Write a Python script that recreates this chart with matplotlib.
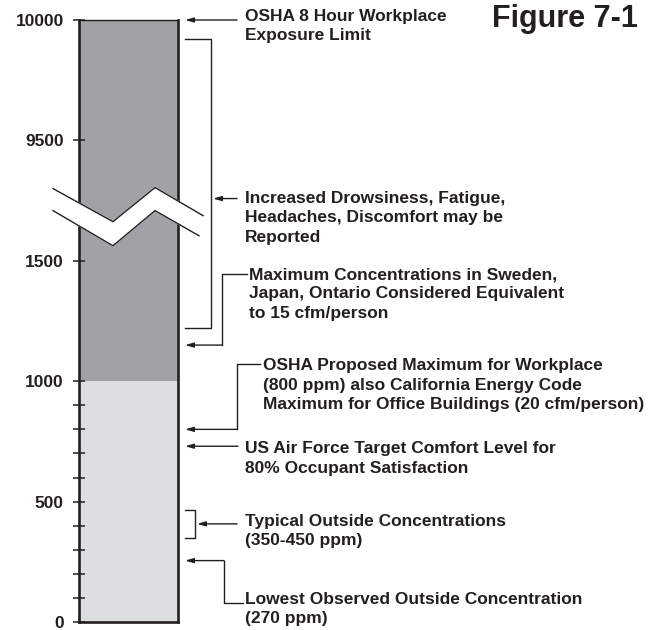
import numpy as np
import matplotlib
matplotlib.use("Agg")
import matplotlib.pyplot as plt

plt.rcParams['font.family'] = ['Liberation Sans', 'DejaVu Sans']
plt.rcParams['font.weight'] = 'bold'

# scale: each break point maps to an equally spaced position on the axis
scale_ppm = [0, 500, 1000, 1500, 9500, 10000]
tick_labels = ["0", "500", "1000", "1500", "9500", "10000"]
minor_ppm = [100, 200, 300, 400, 600, 700, 800, 900]

# bar segments (ppm)
seg_bottom = [0, 1000]
seg_top = [1000, 10000]
seg_colors = ["#dcdddf", "#a1a2a6"]

# annotated levels (ppm)
osha_limit = 10000
drowsy_range = [1220, 9920]
sweden_max = 1150
osha_proposed = 800
air_force = 730
outside_range = [350, 465]
lowest_outside = 255

texts = {
    "osha": "OSHA 8 Hour Workplace\nExposure Limit",
    "drowsy": "Increased Drowsiness, Fatigue,\nHeadaches, Discomfort may be\nReported",
    "sweden": "Maximum Concentrations in Sweden,\nJapan, Ontario Considered Equivalent\nto 15 cfm/person",
    "proposed": "OSHA Proposed Maximum for Workplace\n(800 ppm) also California Energy Code\nMaximum for Office Buildings (20 cfm/person)",
    "airforce": "US Air Force Target Comfort Level for\n80% Occupant Satisfaction",
    "outside": "Typical Outside Concentrations\n(350-450 ppm)",
    "lowest": "Lowest Observed Outside Concentration\n(270 ppm)",
}


def pos(v):
    return np.interp(v, scale_ppm, np.arange(len(scale_ppm)))


INK = "#231f20"
fig = plt.figure(figsize=(6.56, 6.30), dpi=100)
ax = fig.add_axes([79 / 656, 8 / 630, 99 / 656, 602 / 630])

for b, t, c in zip(seg_bottom, seg_top, seg_colors):
    ax.bar(0.5, pos(t) - pos(b), bottom=pos(b), width=1, color=c, edgecolor='none', zorder=1)

ax.set_xlim(0, 1)
ax.set_ylim(0, pos(scale_ppm[-1]))
ax.set_xticks([])
ax.set_yticks(pos(scale_ppm))
ax.set_yticklabels(tick_labels, fontsize=12.5, fontweight='bold', color=INK)
ax.set_yticks(pos(minor_ppm), minor=True)
ax.tick_params(axis='y', which='both', direction='inout', length=8, width=1.1, color=INK, pad=7)
for s in ['left', 'right', 'bottom']:
    ax.spines[s].set_linewidth(1.9)
    ax.spines[s].set_color(INK)
ax.spines['top'].set_linewidth(1.0)
ax.spines['top'].set_color(INK)

# axis break (zigzag band)
ux = [-0.263, 0.343, 0.768, 1.253]
uy = [3.600, 3.325, 3.608, 3.375]
lx = [-0.263, 0.343, 0.768, 1.212]
ly = [3.417, 3.125, 3.417, 3.208]
ax.fill(ux + lx[::-1], uy + ly[::-1], color='white', zorder=5, clip_on=False)
ax.plot(ux, uy, color=INK, lw=1.0, zorder=6, clip_on=False)
ax.plot(lx, ly, color=INK, lw=1.0, zorder=6, clip_on=False)

arrow = dict(arrowstyle='-|>,head_length=0.7,head_width=0.2', color=INK, lw=1.0,
             shrinkA=0, shrinkB=0, mutation_scale=7)
lkw = dict(color=INK, lw=1.0, clip_on=False)
tkw = dict(fontsize=12.5, fontweight='bold', color=INK, va='center', ha='left',
           linespacing=1.36, clip_on=False)
head_x = 1.071


def arr(x0, x1, y):
    ax.annotate('', xy=(x1, y), xytext=(x0, y), arrowprops=arrow, annotation_clip=False)


# OSHA 8 hour
arr(1.596, head_x, pos(osha_limit))
ax.text(1.677, 4.95, texts["osha"], **tkw)

# drowsiness bracket
b0, b1 = pos(drowsy_range[0]), pos(drowsy_range[1])
ax.plot([head_x, 1.333, 1.333, head_x], [b1, b1, b0, b0], **lkw)
arr(1.596, 1.354, 3.517)
ax.text(1.677, 3.358, texts["drowsy"], **tkw)

# Sweden / Japan / Ontario
y = pos(sweden_max)
ax.plot([1.444, 1.444, 1.697], [y, 2.892, 2.892], **lkw)
arr(1.444, head_x, y)
ax.text(1.717, 2.725, texts["sweden"], **tkw)

# OSHA proposed
y = pos(osha_proposed)
ax.plot([1.596, 1.596, 1.828], [y, 2.142, 2.142], **lkw)
arr(1.596, head_x, y)
ax.text(1.859, 1.967, texts["proposed"], **tkw)

# US Air Force
arr(1.606, head_x, pos(air_force))
ax.text(1.677, 1.358, texts["airforce"], **tkw)

# typical outside bracket
o0, o1 = pos(outside_range[0]), pos(outside_range[1])
ax.plot([head_x, 1.172, 1.172, head_x], [o1, o1, o0, o0], **lkw)
arr(1.596, 1.192, (o0 + o1) / 2)
ax.text(1.677, 0.758, texts["outside"], **tkw)

# lowest observed
y = pos(lowest_outside)
ax.plot([1.465, 1.465, 1.657], [y, 0.158, 0.158], **lkw)
arr(1.465, head_x, y)
ax.text(1.677, 0.108, texts["lowest"], **tkw)

fig.text(638 / 656, 1 - 19 / 630, "Figure 7-1", fontsize=22, fontweight='bold',
         color=INK, ha='right', va='center')

fig.savefig("out.png", dpi=100)
